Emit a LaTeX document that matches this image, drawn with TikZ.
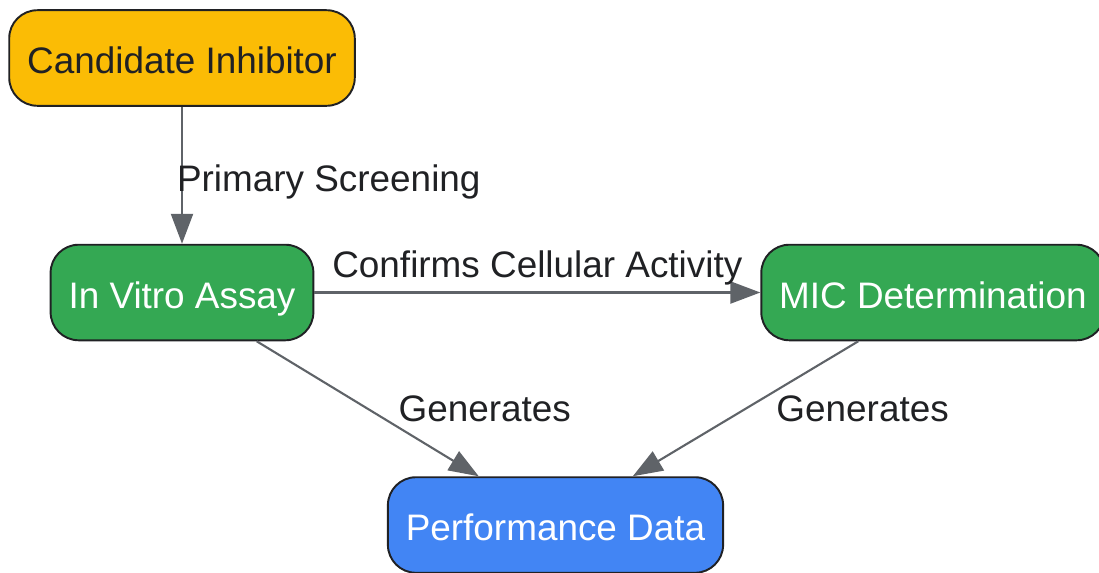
\documentclass[tikz,border=0pt]{standalone}
\usepackage{fontspec}
\setmainfont{Liberation Sans}
\usetikzlibrary{arrows.meta, positioning}
\definecolor{candcolor}{RGB}{251, 188, 5}
\definecolor{assaycolor}{RGB}{52, 168, 83}
\definecolor{datacolor}{RGB}{66, 133, 244}
\definecolor{edgecolor}{RGB}{95, 99, 104}
\definecolor{inkcolor}{RGB}{32, 33, 36}

\begin{document}
\begin{tikzpicture}[x=0.02cm, y=-0.02cm,
    box/.style={draw=inkcolor, line width=1.1pt, rounded corners=16pt, minimum height=54.4pt, inner xsep=10.2pt, text height=20.4pt, text depth=2.3pt, font=\fontsize{21}{25}\selectfont},
    link/.style={draw=edgecolor, line width=1.2pt, -{Triangle[length=17pt, width=12.5pt]}},
    lbl/.style={inner sep=0pt, text=inkcolor, font=\fontsize{21}{25}\selectfont}]
    \useasboundingbox (0,0) rectangle (1099,572);
    \node[box, fill=candcolor, text=inkcolor] (cand) at (182,58) {Candidate Inhibitor};
    \node[box, fill=assaycolor, text=white] (vitro) at (182,292.5) {In Vitro Assay};
    \node[box, fill=assaycolor, text=white] (mic) at (933,292.5) {MIC Determination};
    \node[box, fill=datacolor, text=white] (perf) at (555.5,525) {Performance Data};
    \draw[link] (cand) -- node[lbl, pos=0.55, anchor=west, xshift=-3.4pt] {Primary Screening} (vitro);
    \draw[link] (vitro) -- node[lbl, above=3.4pt] {Confirms Cellular Activity} (mic);
    \draw[link] ([xshift=42.5pt]vitro.south) -- node[lbl, anchor=west, xshift=17pt] {Generates} ([xshift=-43.7pt]perf.north);
    \draw[link] ([xshift=-42.5pt]mic.south) -- node[lbl, anchor=west, xshift=17pt] {Generates} ([xshift=44pt]perf.north);
\end{tikzpicture}
\end{document}
